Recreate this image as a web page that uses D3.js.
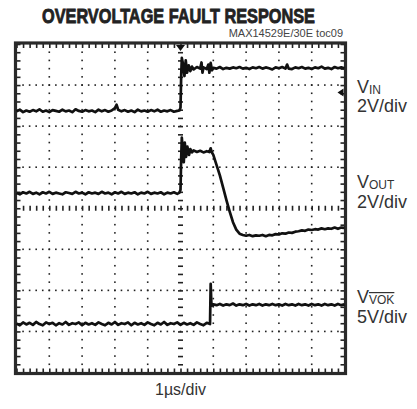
<!DOCTYPE html>
<html><head><meta charset="utf-8">
<script src="https://cdn.jsdelivr.net/npm/d3@7"></script>
<style>
html,body{margin:0;padding:0;background:#fff;}
svg{display:block;}
</style></head>
<body>
<svg id="chart" width="417" height="409"></svg>
<script>
// ---- data (time in divisions 0..10, level in divisions 0..8 from bottom) ----
const title = "OVERVOLTAGE FAULT RESPONSE";
const subtitle = "MAX14529E/30E toc09";
const xLabel = "1\u00b5s/div";
const channelNames = ["V", "V", "V"];
const channelSubs = ["IN", "OUT", "VOK"];
const channelScales = ["2V/div", "2V/div", "5V/div"];

const vin = [[0,6.36],[0.1,6.40],[0.2,6.34],[0.3,6.38],[0.4,6.35],[0.5,6.39],[0.6,6.36],[0.7,6.41],[0.8,6.35],[0.9,6.38],[1.0,6.34],[1.1,6.39],[1.2,6.37],[1.3,6.35],[1.4,6.40],[1.5,6.36],[1.6,6.38],[1.7,6.34],[1.8,6.41],[1.9,6.37],[2.0,6.35],[2.1,6.39],[2.2,6.36],[2.3,6.38],[2.4,6.34],[2.5,6.40],[2.6,6.36],[2.7,6.39],[2.8,6.35],[2.9,6.38],[3.0,6.44],[3.05,6.52],[3.1,6.40],[3.2,6.36],[3.3,6.39],[3.4,6.35],[3.5,6.38],[3.6,6.34],[3.7,6.40],[3.8,6.36],[3.9,6.38],[4.0,6.35],[4.1,6.39],[4.2,6.36],[4.3,6.40],[4.4,6.35],[4.5,6.38],[4.6,6.36],[4.7,6.39],[4.8,6.35],[4.9,6.37],[4.97,6.38],[5.0,6.45],[5.02,7.2],[5.04,7.66],[5.08,7.50],[5.12,7.22],[5.16,7.60],[5.2,7.30],[5.25,7.48],[5.3,7.34],[5.35,7.45],[5.4,7.38],[5.5,7.44],[5.6,7.40],[5.64,7.55],[5.67,7.30],[5.7,7.43],[5.8,7.39],[5.85,7.50],[5.88,7.30],[5.92,7.54],[5.96,7.36],[6.0,7.42],[6.1,7.40],[6.2,7.44],[6.3,7.39],[6.4,7.42],[6.5,7.40],[6.6,7.43],[6.7,7.41],[6.8,7.44],[6.9,7.40],[7.0,7.42],[7.1,7.39],[7.2,7.43],[7.3,7.41],[7.4,7.44],[7.5,7.40],[7.6,7.43],[7.7,7.41],[7.8,7.38],[7.9,7.43],[8.0,7.41],[8.1,7.44],[8.2,7.40],[8.25,7.50],[8.3,7.40],[8.4,7.39],[8.5,7.43],[8.6,7.41],[8.7,7.44],[8.8,7.40],[8.9,7.42],[9.0,7.39],[9.1,7.43],[9.2,7.41],[9.3,7.45],[9.4,7.40],[9.5,7.42],[9.6,7.39],[9.7,7.44],[9.8,7.41],[9.9,7.43],[10,7.41]];

const vout = [[0,4.37],[0.1,4.34],[0.2,4.39],[0.3,4.36],[0.4,4.40],[0.5,4.35],[0.6,4.38],[0.7,4.34],[0.8,4.39],[0.9,4.36],[1.0,4.40],[1.1,4.35],[1.2,4.38],[1.3,4.36],[1.4,4.34],[1.5,4.39],[1.6,4.37],[1.7,4.35],[1.8,4.40],[1.9,4.36],[2.0,4.38],[2.1,4.34],[2.2,4.39],[2.3,4.36],[2.4,4.38],[2.5,4.35],[2.6,4.40],[2.7,4.36],[2.8,4.38],[2.9,4.34],[3.0,4.39],[3.1,4.36],[3.2,4.40],[3.3,4.35],[3.4,4.38],[3.5,4.36],[3.6,4.39],[3.7,4.34],[3.8,4.38],[3.9,4.36],[4.0,4.40],[4.1,4.35],[4.2,4.38],[4.3,4.36],[4.4,4.39],[4.5,4.34],[4.6,4.38],[4.7,4.36],[4.8,4.39],[4.9,4.35],[4.97,4.38],[5.0,4.45],[5.02,5.2],[5.04,5.72],[5.07,5.40],[5.1,5.12],[5.13,5.60],[5.17,5.25],[5.21,5.50],[5.26,5.30],[5.3,5.44],[5.35,5.36],[5.4,5.41],[5.5,5.37],[5.6,5.40],[5.7,5.36],[5.8,5.39],[5.88,5.37],[5.92,5.46],[5.95,5.37],[6.0,5.30],[6.1,5.05],[6.2,4.80],[6.3,4.50],[6.4,4.20],[6.5,3.92],[6.6,3.66],[6.7,3.48],[6.8,3.38],[6.9,3.35],[7.0,3.33],[7.1,3.35],[7.2,3.32],[7.3,3.34],[7.4,3.33],[7.5,3.35],[7.6,3.32],[7.7,3.35],[7.8,3.34],[7.9,3.37],[8.0,3.36],[8.1,3.39],[8.2,3.38],[8.3,3.41],[8.4,3.40],[8.5,3.43],[8.6,3.44],[8.7,3.46],[8.8,3.45],[8.9,3.48],[9.0,3.47],[9.1,3.49],[9.2,3.48],[9.3,3.51],[9.4,3.49],[9.5,3.51],[9.6,3.50],[9.7,3.53],[9.8,3.50],[9.9,3.53],[10,3.52]];

const vok = [[0,1.19],[0.1,1.15],[0.2,1.22],[0.3,1.17],[0.4,1.21],[0.5,1.16],[0.6,1.23],[0.7,1.18],[0.8,1.15],[0.9,1.22],[1.0,1.18],[1.1,1.21],[1.2,1.15],[1.3,1.20],[1.4,1.17],[1.5,1.23],[1.6,1.16],[1.7,1.20],[1.8,1.18],[1.9,1.22],[2.0,1.15],[2.1,1.21],[2.2,1.17],[2.3,1.20],[2.4,1.16],[2.5,1.22],[2.6,1.18],[2.7,1.15],[2.8,1.21],[2.9,1.17],[3.0,1.23],[3.1,1.16],[3.2,1.20],[3.3,1.18],[3.4,1.22],[3.5,1.15],[3.6,1.21],[3.7,1.17],[3.8,1.20],[3.9,1.16],[4.0,1.22],[4.1,1.18],[4.2,1.15],[4.3,1.21],[4.4,1.17],[4.5,1.23],[4.6,1.16],[4.7,1.20],[4.8,1.18],[4.9,1.22],[5.0,1.16],[5.1,1.21],[5.2,1.17],[5.3,1.20],[5.4,1.16],[5.5,1.22],[5.6,1.18],[5.7,1.15],[5.8,1.21],[5.9,1.18],[5.92,2.16],[5.94,1.70],[5.97,1.63],[6.0,1.66],[6.1,1.64],[6.2,1.67],[6.3,1.63],[6.4,1.66],[6.5,1.64],[6.6,1.68],[6.7,1.63],[6.8,1.66],[6.9,1.64],[7.0,1.67],[7.1,1.63],[7.2,1.66],[7.3,1.64],[7.4,1.67],[7.5,1.63],[7.6,1.66],[7.7,1.64],[7.8,1.67],[7.9,1.64],[8.0,1.66],[8.1,1.63],[8.2,1.67],[8.3,1.64],[8.4,1.66],[8.5,1.63],[8.6,1.67],[8.7,1.64],[8.8,1.66],[8.9,1.63],[9.0,1.67],[9.1,1.64],[9.2,1.66],[9.3,1.63],[9.4,1.67],[9.5,1.64],[9.6,1.66],[9.7,1.63],[9.8,1.67],[9.9,1.64],[10,1.66]];

const traces = [vin, vout, vok];
const xDivisions = [0,1,2,3,4,5,6,7,8,9,10];
const yDivisions = [0,1,2,3,4,5,6,7,8];
const triggerTime = 5;
const triggerLevel = 6.82;

// ---- layout ----
const svg = d3.select("#chart");
const L = 16.5, R = 344.5, T = 44, B = 372.5;
const x = d3.scaleLinear().domain([0,10]).range([L,R]);
const y = d3.scaleLinear().domain([0,8]).range([B,T]);
const ink = "#222";
const font = "'Liberation Sans Narrow','Arial Narrow','Liberation Sans',Arial,sans-serif";

const xMinor = d3.range(0, 50.5).map(i => i/5);
const yMinor = d3.range(0, 40.5).map(i => i/5);

// grid dots
const g = svg.append("g");
xDivisions.filter(d => d>0 && d<10 && d!==5).forEach(d => {
  g.selectAll(null).data(yMinor.filter(v => v>0 && v<8)).enter().append("rect")
    .attr("x", x(d)-0.8).attr("y", v => y(v)-0.8).attr("width",1.6).attr("height",1.6).attr("fill",ink);
});
yDivisions.filter(d => d>0 && d<8 && d!==4).forEach(d => {
  g.selectAll(null).data(xMinor.filter(v => v>0 && v<10)).enter().append("rect")
    .attr("x", t => x(t)-0.8).attr("y", y(d)-0.8).attr("width",1.6).attr("height",1.6).attr("fill",ink);
});

// centre axes with ticks
function styleAxis(sel){ sel.select(".domain").remove(); sel.selectAll(".tick line").attr("stroke",ink).attr("stroke-width",1.6); sel.selectAll("text").remove(); }
svg.append("g").attr("transform",`translate(0,${y(4)-2.5})`)
  .call(d3.axisBottom(x).tickValues(xMinor.filter(v=>v>0&&v<10)).tickSize(5).tickFormat("")).call(styleAxis);
svg.append("g").attr("transform",`translate(${x(5)-2.5},0)`)
  .call(d3.axisRight(y).tickValues(yMinor.filter(v=>v>0&&v<8)).tickSize(5).tickFormat("")).call(styleAxis);

// frame edge ticks
svg.append("g").attr("transform",`translate(0,${T})`)
  .call(d3.axisBottom(x).tickValues(xMinor).tickSize(4).tickFormat("")).call(styleAxis);
svg.append("g").attr("transform",`translate(0,${B})`)
  .call(d3.axisTop(x).tickValues(xMinor).tickSize(4).tickFormat("")).call(styleAxis);
svg.append("g").attr("transform",`translate(${L},0)`)
  .call(d3.axisRight(y).tickValues(yMinor).tickSize(4).tickFormat("")).call(styleAxis);
svg.append("g").attr("transform",`translate(${R},0)`)
  .call(d3.axisLeft(y).tickValues(yMinor).tickSize(4).tickFormat("")).call(styleAxis);

// frame
svg.append("rect").attr("x",L-1).attr("y",T-1).attr("width",R-L+2).attr("height",B-T+2)
  .attr("fill","none").attr("stroke","#2a2a2a").attr("stroke-width",3.2);

// traces
const line = d3.line().x(d => x(d[0])).y(d => y(d[1]));
svg.selectAll(".trace").data(traces).enter().append("path")
  .attr("class","trace").attr("d", line).attr("fill","none")
  .attr("stroke","#111").attr("stroke-width",2.7).attr("stroke-linejoin","round");

// trigger markers
const tx = x(triggerTime);
svg.append("path").attr("d",`M${tx-4.5},${T+1} L${tx+4.5},${T+1} L${tx},${T+7} Z`).attr("fill","#111");
const ty = y(triggerLevel);
svg.append("path").attr("d",`M${R-7},${ty} L${R-1},${ty-4} L${R-1},${ty+4} Z`).attr("fill","#111");

// title and subtitle
svg.append("text").attr("x",178.5).attr("y",22.5).attr("text-anchor","middle")
  .attr("font-family",font).attr("font-weight","bold").attr("font-size",19.5)
  .attr("textLength",273).attr("lengthAdjust","spacingAndGlyphs")
  .attr("fill","#222").attr("stroke","#222").attr("stroke-width",0.8).text(title);
svg.append("text").attr("x",343).attr("y",36.5).attr("text-anchor","end")
  .attr("font-family",font).attr("font-size",11).attr("fill","#444").text(subtitle);

// channel labels
const lab = svg.append("g").attr("font-family",font).attr("fill","#333");
const labelY = [92.5, 188, 303];
channelNames.forEach((n,i) => {
  const t = lab.append("text").attr("x",357).attr("y",labelY[i]).attr("font-size",18);
  t.append("tspan").text(n);
  const s = t.append("tspan").attr("font-size",12).attr("dy",1).text(channelSubs[i]);
  if (i === 2) s.attr("text-decoration","overline");
  lab.append("text").attr("x",357).attr("y",labelY[i]+19.5).attr("font-size",18).text(channelScales[i]);
});

// x label
svg.append("text").attr("x",180.5).attr("y",395).attr("text-anchor","middle")
  .attr("font-family",font).attr("font-size",16).attr("fill","#333").text(xLabel);
</script>
</body></html>
